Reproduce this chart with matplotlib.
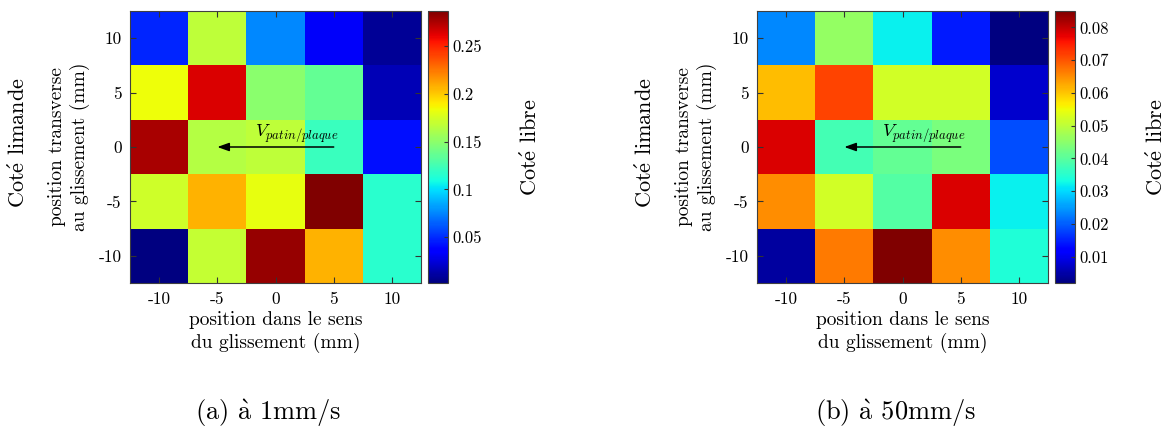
import numpy as np
import matplotlib
matplotlib.use("Agg")
import matplotlib.pyplot as plt

# fonts: computer modern look
plt.rcParams["font.family"] = ["cmr10", "DejaVu Serif"]
plt.rcParams["mathtext.fontset"] = "cm"
plt.rcParams["axes.unicode_minus"] = False

# data
x_pos = [-10, -5, 0, 5, 10]
y_pos = [10, 5, 0, -5, -10]
tick_labels = ["-10", "-5", "0", "5", "10"]

# rows from y=10 (top) to y=-10 (bottom)
wear_1mm = [
    [0.048, 0.167, 0.076, 0.033, 0.008],
    [0.184, 0.264, 0.150, 0.136, 0.016],
    [0.276, 0.164, 0.167, 0.122, 0.042],
    [0.173, 0.207, 0.182, 0.287, 0.116],
    [0.002, 0.170, 0.281, 0.207, 0.116],
]
wear_50mm = [
    [0.0236, 0.046, 0.032, 0.0145, 0.002],
    [0.061, 0.0717, 0.052, 0.052, 0.0078],
    [0.0784, 0.0377, 0.041, 0.0435, 0.0186],
    [0.065, 0.052, 0.0394, 0.0784, 0.032],
    [0.0045, 0.0667, 0.085, 0.065, 0.0344],
]
cbar_ticks_1mm = [0.05, 0.1, 0.15, 0.2, 0.25]
cbar_ticks_50mm = [0.01, 0.02, 0.03, 0.04, 0.05, 0.06, 0.07, 0.08]
captions = [r"(a) $\mathrm{\grave{a}}$ 1mm/s", r"(b) $\mathrm{\grave{a}}$ 50mm/s"]

W, H = 1168, 430
fig = plt.figure(figsize=(W / 100, H / 100), dpi=100)

def px(x0, y0, x1, y1):
    # pixel box -> figure fraction
    return [x0 / W, 1 - y1 / H, (x1 - x0) / W, (y1 - y0) / H]

# data, colorbar ticks, axes left px, caption x, "Coté libre" x
panels = [
    (wear_1mm, cbar_ticks_1mm, 130, 268, 530),
    (wear_50mm, cbar_ticks_50mm, 757, 895, 1156),
]

for i, (Z, cticks, left, cap_x, libre_x) in enumerate(panels):
    ax = fig.add_axes(px(left, 11, left + 291, 283))
    cax = fig.add_axes(px(left + 298, 11, left + 318, 283))
    Z = np.array(Z)
    mesh = ax.pcolormesh(x_pos, y_pos, Z, cmap="jet", shading="nearest",
                         vmin=Z.min(), vmax=Z.max())
    ax.set_xlim(-12.5, 12.5)
    ax.set_ylim(-12.5, 12.5)
    ax.set_xticks(x_pos)
    ax.set_xticklabels(tick_labels)
    ax.set_yticks(x_pos)
    ax.set_yticklabels(tick_labels)
    ax.tick_params(direction="in", top=True, right=True, length=4,
                   labelsize=12.5, color="0.2", pad=6)
    for s in ax.spines.values():
        s.set_color("0.25")
        s.set_linewidth(0.8)

    ax.set_xlabel("position dans le sens\ndu glissement (mm)", fontsize=14,
                  linespacing=1.25, labelpad=3)
    ax.set_ylabel("position transverse\nau glissement (mm)", fontsize=14,
                  linespacing=1.25, labelpad=6)

    # arrow showing sliding direction
    ax.annotate("", xy=(-5, 0), xytext=(5, 0),
                arrowprops=dict(arrowstyle="-|>,head_length=0.7,head_width=0.25",
                                color="black", lw=1.1, shrinkA=0, shrinkB=0))
    ax.text(1.8, 0.3, r"$V_{patin/plaque}$", ha="center", va="bottom", fontsize=13)

    cb = fig.colorbar(mesh, cax=cax)
    cb.set_ticks(cticks)
    cb.set_ticklabels([("%g" % t) for t in cticks])
    cb.ax.tick_params(direction="in", length=3, labelsize=12, color="0.2")
    cb.outline.set_edgecolor("0.25")
    cb.outline.set_linewidth(0.8)

    # side labels
    fig.text((left - 112) / W, 1 - 143 / H, r"Cot$\mathrm{\acute{e}}$ limande",
             rotation=90, ha="center", va="center", fontsize=16)
    fig.text(libre_x / W, 1 - 147 / H, r"Cot$\mathrm{\acute{e}}$ libre",
             rotation=90, ha="center", va="center", fontsize=16)
    fig.text(cap_x / W, 1 - 413 / H, captions[i], ha="center", va="center",
             fontsize=19)

fig.savefig("out.png", dpi=100)
